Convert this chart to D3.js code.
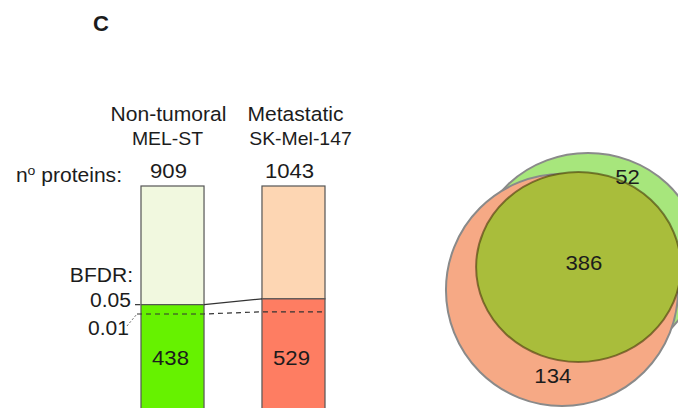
<!DOCTYPE html>
<html>
<head>
<meta charset="utf-8">
<script src="https://cdn.jsdelivr.net/npm/d3@7/dist/d3.min.js"></script>
<style>
  html, body { margin: 0; padding: 0; background: #fff; }
  svg { display: block; }
  text { font-family: "Liberation Sans", Arial, sans-serif; fill: #1c1c1c; }
</style>
</head>
<body>
<svg id="chart" width="678" height="408"></svg>
<script>
// Identified proteins per cell line
const samples = ["Non-tumoral", "Metastatic"];
const cellLines = ["MEL-ST", "SK-Mel-147"];
const totalProteins = [909, 1043];
const passBfdr05 = [438, 529];
const passBfdr01 = [401, 470];
const bfdrTicks = ["0.05", "0.01"];

// Overlap of proteins passing BFDR 0.05
const vennSets = ["Non-tumoral only", "Shared", "Metastatic only"];
const vennCounts = [52, 386, 134];

const svg = d3.select("#chart");
const STRETCH = 1.08; // glyphs are set slightly wide

const colors = {
  greenLight: "#f1f8df", greenDark: "#66f200",
  salmonLight: "#fdd6b3", salmonDark: "#fe7d62",
  vennGreen: "#a7e67c", vennSalmon: "#f6a985", vennShared: "#a9bd3b"
};

// text placed at (x, y) and widened horizontally
function label(parent, x, y, txt, size, anchor) {
  return parent.append("text")
    .attr("transform", `translate(${x},${y}) scale(${STRETCH},1)`)
    .attr("text-anchor", anchor || "middle")
    .style("font-size", size + "px")
    .text(txt);
}

// Panel letter
svg.append("text").attr("x", 93).attr("y", 31)
  .style("font-weight", "bold").style("font-size", "22px").text("C");

// ---- Stacked proportion bars ----
const x = d3.scaleBand().domain(samples).range([110.75, 355.25])
  .paddingInner(0.479).paddingOuter(0.25);
const y = d3.scaleLinear().domain([0, 1]).range([415, 186]);

const bars = samples.map((s, i) => ({
  sample: s, line: cellLines[i], total: totalProteins[i],
  f05: passBfdr05[i] / totalProteins[i],
  f01: passBfdr01[i] / totalProteins[i],
  n05: passBfdr05[i],
  light: i === 0 ? colors.greenLight : colors.salmonLight,
  dark: i === 0 ? colors.greenDark : colors.salmonDark
}));

const g = svg.append("g");
const bw = x.bandwidth();
const cx = d => x(d.sample) + bw / 2;

// upper (not passing) segment
g.selectAll("rect.upper").data(bars).join("rect").attr("class", "upper")
  .attr("x", d => x(d.sample)).attr("width", bw)
  .attr("y", y(1)).attr("height", d => y(d.f05) - y(1))
  .attr("fill", d => d.light).attr("stroke", "#555").attr("stroke-width", 1.2);

// lower (passing BFDR 0.05) segment
g.selectAll("rect.lower").data(bars).join("rect").attr("class", "lower")
  .attr("x", d => x(d.sample)).attr("width", bw)
  .attr("y", d => y(d.f05)).attr("height", d => y(0) - y(d.f05))
  .attr("fill", d => d.dark).attr("stroke", "#555").attr("stroke-width", 1.2);

// connector between the 0.05 thresholds
g.append("line")
  .attr("x1", x(samples[0]) + bw).attr("y1", y(bars[0].f05))
  .attr("x2", x(samples[1])).attr("y2", y(bars[1].f05))
  .attr("stroke", "#333").attr("stroke-width", 1.2);

// 0.01 threshold, dashed across both bars
const tickX = x(samples[0]) - 4;
g.append("path")
  .attr("d", d3.line()([[tickX, y(bars[0].f01)], [x(samples[0]) + bw, y(bars[0].f01)],
                        [x(samples[1]), y(bars[1].f01)], [x(samples[1]) + bw, y(bars[1].f01)]]))
  .attr("fill", "none").attr("stroke", "#333").attr("stroke-width", 1.2)
  .attr("stroke-dasharray", "5,4");

// BFDR tick marks and labels
g.append("line").attr("x1", x(samples[0]) - 6).attr("x2", x(samples[0]) - 1)
  .attr("y1", y(bars[0].f05)).attr("y2", y(bars[0].f05))
  .attr("stroke", "#333").attr("stroke-width", 1.2);
g.append("line").attr("x1", tickX - 10).attr("y1", y(bars[0].f01) + 12)
  .attr("x2", tickX).attr("y2", y(bars[0].f01))
  .attr("stroke", "#555").attr("stroke-width", 0.9).attr("stroke-dasharray", "2,2");

const labelX = x(samples[0]) - 8;
label(g, labelX, 282, "BFDR:", 19.5, "end");
label(g, labelX - 2, y(bars[0].f05) + 2, bfdrTicks[0], 19.5, "end");
label(g, labelX - 4, y(bars[0].f01) + 21, bfdrTicks[1], 19.5, "end");

// headers
bars.forEach((d, i) => {
  label(g, cx(d) + (i === 0 ? -4 : 2), 121, d.sample, 19.5);
  label(g, cx(d) + (i === 0 ? -5 : 7), 145, d.line, 18);
  label(g, cx(d) - 4, 178, d.total, 20.5);
  label(g, cx(d) - 2, 365, d.n05, 20.5);
});

const np = g.append("text")
  .attr("transform", `translate(122,182) scale(${STRETCH},1)`)
  .attr("text-anchor", "end").style("font-size", "19.5px");
np.append("tspan").text("n");
np.append("tspan").attr("dy", -7).style("font-size", "13px").text("o");
np.append("tspan").attr("dy", 7).text(" proteins:");

// ---- Venn diagram ----
const vx = d3.scaleLinear().domain([0, 1]).range([562, 677]);
const vy = d3.scaleLinear().domain([0, 1]).range([290, 405]);
const vr = d3.scaleLinear().domain([0, 1]).range([0, 115]);

const shapes = [
  { cx: 0.226, cy: -0.278, rx: 0.974, ry: 0.913, fill: colors.vennGreen, stroke: "#8a8a8a" },
  { cx: 0, cy: 0, rx: 1.009, ry: 1.009, fill: colors.vennSalmon, stroke: "#8a8a8a" },
  { cx: 0.143, cy: -0.2, rx: 0.89, ry: 0.826, fill: colors.vennShared, stroke: "rgba(70,55,10,0.6)" }
];
svg.append("g").selectAll("ellipse").data(shapes).join("ellipse")
  .attr("cx", d => vx(d.cx)).attr("cy", d => vy(d.cy))
  .attr("rx", d => vr(d.rx)).attr("ry", d => vr(d.ry))
  .attr("fill", d => d.fill).attr("stroke", d => d.stroke).attr("stroke-width", 2);

const vennPos = [[0.57, -0.92], [0.19, -0.17], [-0.08, 0.81]];
const vg = svg.append("g");
vennCounts.forEach((c, i) => label(vg, vx(vennPos[i][0]), vy(vennPos[i][1]), c, 20.5));
</script>
</body>
</html>
